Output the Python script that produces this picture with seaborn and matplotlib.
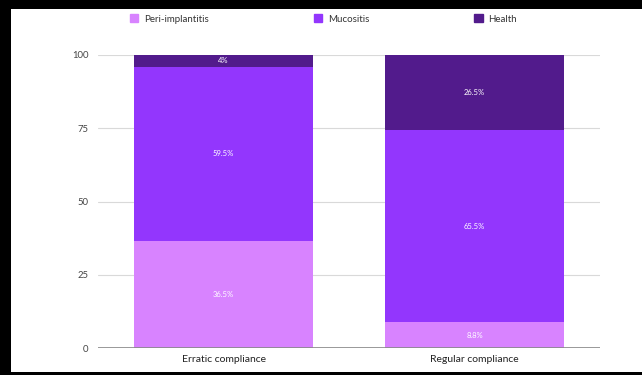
import matplotlib
matplotlib.use("Agg")
import matplotlib.pyplot as plt
import matplotlib.patches as mpatches
import seaborn as sns
import pandas as pd
import numpy as np

categories = ["Erratic compliance", "Regular compliance"]
series = ["Peri-implantitis", "Mucositis", "Health"]
peri = [36.5, 8.8]
muco = [59.5, 65.5]
health = [4, 26.5]
labels_peri = ["36.5%", "8.8%"]
labels_muco = ["59.5%", "65.5%"]
labels_health = ["4%", "26.5%"]
yticks = [0, 25, 50, 75, 100]
colors = ["#D883FF", "#9336FD", "#521B8C"]

sns.set_theme(style="white")
plt.rcParams['font.family'] = ['Lato', 'DejaVu Sans']

W, H = 642, 375
fig = plt.figure(figsize=(W / 100, H / 100), dpi=100, facecolor="black")
# white card inside dark screenshot frame
fig.patches.append(mpatches.Rectangle((11 / W, 3 / H), 1 - 11 / W, (372 - 9) / H,
                                      transform=fig.transFigure, facecolor="white",
                                      edgecolor="none", zorder=-5))

ax = fig.add_axes([98 / W, 1 - 348 / H, (600 - 98) / W, (348 - 55) / H])
ax.set_zorder(2)
ax.set_facecolor("white")

bottoms = np.zeros(len(categories))
vals_list = [peri, muco, health]
labs_list = [labels_peri, labels_muco, labels_health]
for s, vals, labs, c in zip(series, vals_list, labs_list, colors):
    sns.barplot(x=categories, y=vals, ax=ax, color=c, width=0.71, saturation=1,
                edgecolor="none", zorder=2)
    # stack: shift the just-added bars
    for p, b in zip(ax.patches[-len(categories):], bottoms):
        p.set_y(b)
    for i, (v, l) in enumerate(zip(vals, labs)):
        top = min(bottoms[i] + v, 100)
        ymid = (bottoms[i] + top) / 2
        ax.text(i, ymid, l, ha="center", va="center",
                color="white", fontsize=5.5, zorder=3)
    bottoms = bottoms + np.array(vals)

ax.set_xlim(-0.5, 1.5)
ax.set_ylim(0, 100)
ax.set_yticks(yticks)
ax.set_yticklabels([str(t) for t in yticks], fontsize=6.8, color="#444444")
ax.tick_params(axis="x", labelsize=7.5, colors="#222222", length=0, pad=5)
ax.tick_params(axis="y", length=0, pad=7)
for t in [25, 50, 75, 100]:
    ax.axhline(t, color="#D9D9D9", lw=0.8, zorder=1)
ax.axhline(0, color="#888888", lw=1.2, zorder=4)
for sp in ax.spines.values():
    sp.set_visible(False)
ax.set_xlabel("")
ax.set_ylabel("")

handles = [mpatches.Patch(color=c, label=s) for s, c in zip(series, colors)]
leg = fig.legend(handles=handles, loc="center left", bbox_to_anchor=(130 / W, 1 - 19 / H),
                 ncol=3, frameon=False, fontsize=7, handlelength=0.85, handleheight=0.85,
                 columnspacing=10.8, handletextpad=0.6, borderpad=0, borderaxespad=0)
for t in leg.get_texts():
    t.set_color("#333333")

fig.savefig("out.png", dpi=100, facecolor=fig.get_facecolor())
